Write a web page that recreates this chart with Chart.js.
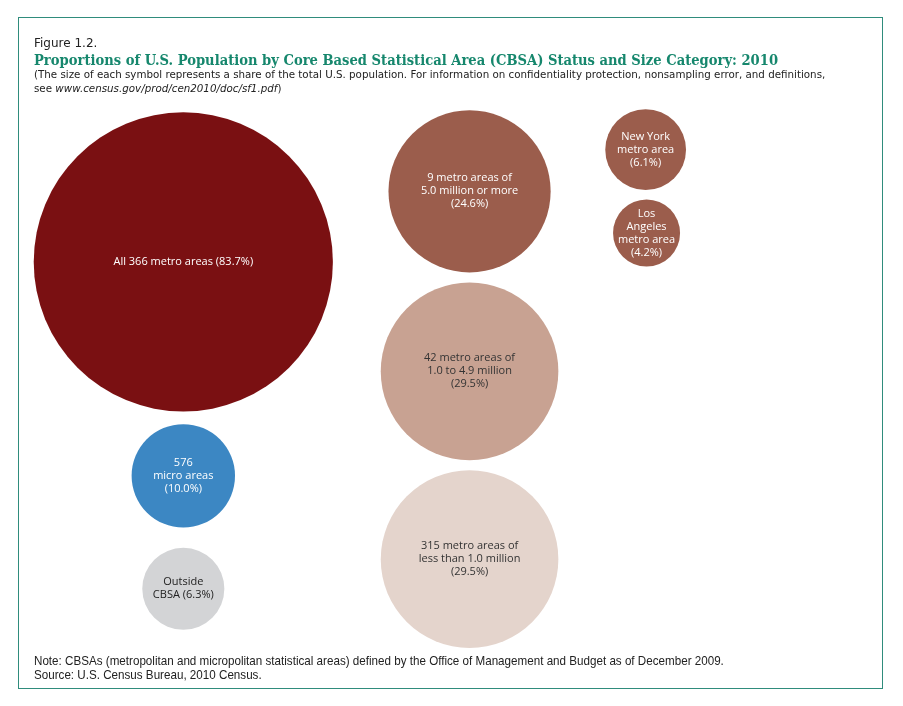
<!DOCTYPE html>
<html>
<head>
<meta charset="utf-8">
<script src="https://cdn.jsdelivr.net/npm/chart.js@4.4.0/dist/chart.umd.min.js"></script>
<style>
  html, body { margin: 0; padding: 0; background: #fff; }
  #wrap { position: relative; width: 903px; height: 706px; }
  #frame { position: absolute; left: 18px; top: 17px; width: 863px; height: 670px; border: 1.5px solid #2f8c7c; }
  canvas { position: absolute; left: 0; top: 0; }
  .txt { position: absolute; left: 34px; white-space: nowrap; color: #222; transform-origin: left top; }
  #fig { top: 36px; font: 12px "DejaVu Sans", sans-serif; }
  #title { top: 50px; font: bold 15.5px "DejaVu Serif", serif; color: #16876d; transform: scaleX(0.847); }
  #sub { top: 67px; font: 10.3px "DejaVu Sans", sans-serif; line-height: 14px; }
  #note { top: 654px; font: 13px "Liberation Sans Narrow", "Liberation Sans", sans-serif; line-height: 14px; transform: scaleX(0.895); }
</style>
</head>
<body>
<div id="wrap">
  <div id="frame"></div>
  <canvas id="c" width="903" height="706"></canvas>
  <div class="txt" id="fig">Figure 1.2.</div>
  <div class="txt" id="title">Proportions of U.S. Population by Core Based Statistical Area (CBSA) Status and Size Category: 2010</div>
  <div class="txt" id="sub">(The size of each symbol represents a share of the total U.S. population. For information on confidentiality protection, nonsampling error, and definitions,<br>see <i>www.census.gov/prod/cen2010/doc/sf1.pdf</i>)</div>
  <div class="txt" id="note">Note: CBSAs (metropolitan and micropolitan statistical areas) defined by the Office of Management and Budget as of December 2009.<br>Source: U.S. Census Bureau, 2010 Census.</div>
</div>
<script>
// share of U.S. population (%) for each group
const groups = ['All 366 metro areas', '9 metro areas of 5.0+ million', 'New York metro area', 'Los Angeles metro area',
                '42 metro areas of 1.0 to 4.9 million', '315 metro areas under 1.0 million', '576 micro areas', 'Outside CBSA'];
const shares = [83.7, 24.6, 6.1, 4.2, 29.5, 29.5, 10.0, 6.3];
// layout position of each symbol (percent of page width / height)
const posX = [20.3, 52.0, 71.5, 71.6, 52.0, 52.0, 20.3, 20.3];
const posY = [37.1, 27.1, 21.2, 33.0, 52.6, 79.2, 67.4, 83.4];
const labels = [
  ['All 366 metro areas (83.7%)'],
  ['9 metro areas of', '5.0 million or more', '(24.6%)'],
  ['New York', 'metro area', '(6.1%)'],
  ['Los', 'Angeles', 'metro area', '(4.2%)'],
  ['42 metro areas of', '1.0 to 4.9 million', '(29.5%)'],
  ['315 metro areas of', 'less than 1.0 million', '(29.5%)'],
  ['576', 'micro areas', '(10.0%)'],
  ['Outside', 'CBSA (6.3%)']
];
const colors = ['#7a1012', '#9b5d4c', '#9b5d4c', '#9b5d4c', '#c8a292', '#e4d4cc', '#3c87c3', '#d3d4d6'];
const textColors = ['#fff', '#fff', '#fff', '#fff', '#333', '#333', '#fff', '#222'];

// symbol area proportional to share
const k = 16.35;

const bubbleLabels = {
  id: 'bubbleLabels',
  afterDatasetsDraw(chart) {
    const ctx = chart.ctx;
    const meta = chart.getDatasetMeta(0);
    ctx.save();
    ctx.font = '11px "Open Sans", sans-serif';
    ctx.textAlign = 'center';
    ctx.textBaseline = 'middle';
    meta.data.forEach((el, i) => {
      const lines = labels[i];
      const lh = 13;
      const y0 = el.y - (lines.length - 1) * lh / 2;
      ctx.fillStyle = textColors[i];
      lines.forEach((l, j) => ctx.fillText(l, el.x, y0 + j * lh));
    });
    ctx.restore();
  }
};

new Chart(document.getElementById('c'), {
  type: 'bubble',
  data: {
    labels: groups,
    datasets: [{
      data: shares.map((s, i) => ({ x: posX[i], y: posY[i], r: k * Math.sqrt(s) })),
      backgroundColor: colors,
      borderWidth: 0,
      hoverBorderWidth: 0,
      clip: false
    }]
  },
  options: {
    responsive: false,
    animation: false,
    events: [],
    layout: { padding: 0, autoPadding: false },
    scales: {
      x: { display: false, min: 0, max: 100 },
      y: { display: false, min: 0, max: 100, reverse: true }
    },
    plugins: { legend: { display: false }, tooltip: { enabled: false } }
  },
  plugins: [bubbleLabels]
});
</script>
</body>
</html>
